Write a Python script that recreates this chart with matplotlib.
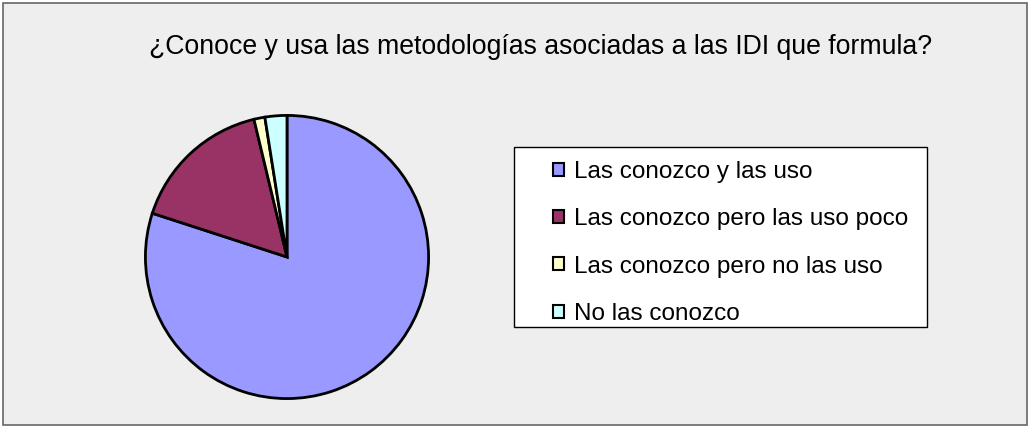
import matplotlib.pyplot as plt
from matplotlib.patches import Rectangle, Patch

plt.rcParams['font.family'] = ['Liberation Sans', 'DejaVu Sans']

labels = ["Las conozco y las uso", "Las conozco pero las uso poco",
          "Las conozco pero no las uso", "No las conozco"]
counts = [64, 13, 1, 2]
colors = ["#9999FF", "#993366", "#FFFFCC", "#CCFFFF"]
title = "¿Conoce y usa las metodologías asociadas a las IDI que formula?"

W, H = 1030, 428
fig = plt.figure(figsize=(W / 100, H / 100), dpi=100)
fig.patch.set_facecolor("white")

# outer chart area
fig.patches.append(Rectangle((3 / W, 3 / H), 1 - 6 / W, 1 - 6 / H,
                             transform=fig.transFigure, facecolor="#EEEEEE",
                             edgecolor="#666666", linewidth=1.2, zorder=-5))

fig.text(541 / W, 1 - 47 / H, title, ha="center", va="center", fontsize=19.2)

# pie
cx, cy, r = 287, 257, 143
ax = fig.add_axes([(cx - r) / W, (H - cy - r) / H, 2 * r / W, 2 * r / H])
ax.pie(counts, colors=colors, startangle=90, counterclock=False,
       wedgeprops=dict(edgecolor="black", linewidth=2.0))
ax.set_xlim(-1.01, 1.01)
ax.set_ylim(-1.01, 1.01)
ax.set_aspect("equal")
ax.axis("off")

# legend box
fig.patches.append(Rectangle((514 / W, 1 - 327 / H), 413 / W, 180 / H,
                             transform=fig.transFigure, facecolor="white",
                             edgecolor="black", linewidth=1.0, zorder=-4))
handles = [Patch(facecolor=c, edgecolor="black", linewidth=1.5) for c in colors]
leg = fig.legend(handles, labels, loc="upper left",
                 bbox_to_anchor=(553 / W, 1 - 161 / H), fontsize=17.5,
                 frameon=False, handlelength=0.45, handleheight=0.45,
                 handletextpad=0.4, labelspacing=1.04, borderpad=0,
                 borderaxespad=0)

fig.savefig("out.png", dpi=100)
